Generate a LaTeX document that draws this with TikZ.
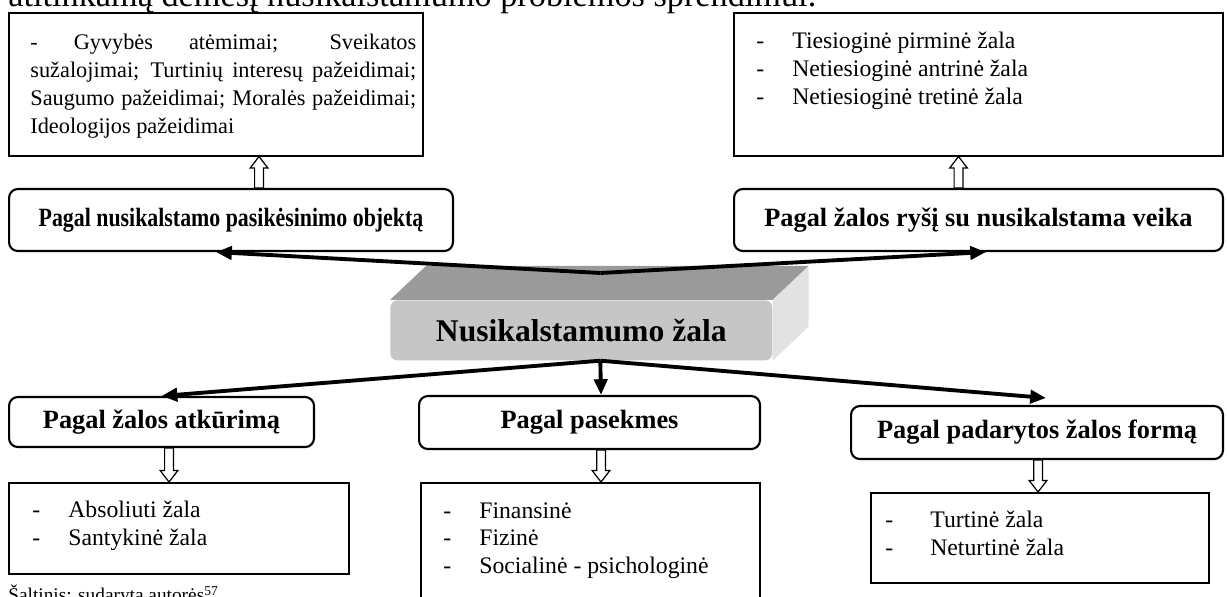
\documentclass[tikz,border=0pt]{standalone}
\usepackage{fontspec}
\setmainfont{Liberation Serif}
\newfontfamily\narrowserif{Liberation Serif}[FakeStretch=0.83]
\usetikzlibrary{calc}
\usetikzlibrary{arrows.meta}

\definecolor{topgray}{HTML}{9A9A9A}
\definecolor{frontgray}{HTML}{C6C6C6}
\definecolor{sidegray}{HTML}{E2E2E2}

\tikzset{
  listbox/.style={draw, line width=0.9pt, anchor=north west, inner sep=0pt},
  listtext/.style={anchor=north west, inner sep=0pt, align=left, font=\fontsize{13.5}{15.9}\selectfont},
  lbl/.style={draw, line width=1.2pt, rounded corners=5pt, anchor=north west, inner sep=0pt, font=\fontsize{15}{18}\selectfont\bfseries},
  conn/.style={line width=2.2pt, -{Triangle[length=9pt,width=7.5pt]}},
  hollow/.style={draw, line width=0.7pt, fill=white},
}

\newcommand{\dashitem}[2][0.72cm]{\makebox[#1][l]{-}#2}
% open block arrow from #1 towards the anchor #2 (tip kept in line with #1)
\newcommand{\hollowarrow}[2]{%
  \coordinate (ha) at (#1);
  \coordinate (hb) at (#2 -| ha);
  \coordinate (hh) at ($(hb)!6.5pt!(ha)$);
  \draw[hollow] ($(ha)!2.5pt!90:(hb)$) -- ($(hh)!2.5pt!90:(hb)$) -- ($(hh)!5pt!90:(hb)$) -- (hb)
    -- ($(hh)!5pt!-90:(hb)$) -- ($(hh)!2.5pt!-90:(hb)$) -- ($(ha)!2.5pt!-90:(hb)$) -- cycle;
}

\begin{document}
\begin{tikzpicture}[x=0.02cm, y=-0.02cm]
\clip (0,0) rectangle (1227,597);

\node[anchor=base west, inner sep=0pt, font=\fontsize{19.5}{22}\selectfont] (intro) at (8,7) {atitinkamą dėmesį nusikalstamumo problemos sprendimui.};

% top row
\node[listbox, minimum width=8.28cm, minimum height=2.86cm] (listA) at (8,12) {};
\node[listtext, text width=7.72cm, align=justify, font=\fontsize{12.7}{15.9}\selectfont] (listAtxt) at ($(listA.north west)+(22,22)$)
  {- Gyvybės atėmimai; Sveikatos\linebreak sužalojimai; Turtinių interesų pažeidimai;\linebreak Saugumo pažeidimai; Moralės pažeidimai;\linebreak Ideologijos pažeidimai};
\node[listbox, minimum width=9.78cm, minimum height=2.86cm] (listB) at (733,12) {};
\node[listtext] (listBtxt) at ($(listB.north west)+(23,20)$)
  {\dashitem{Tiesioginė pirminė žala}\\ \dashitem{Netiesioginė antrinė žala}\\ \dashitem{Netiesioginė tretinė žala}};

\node[lbl, minimum width=8.88cm, minimum height=1.24cm, font=\fontsize{15}{18}\selectfont\narrowserif\bfseries] (objlbl) at (8,188) {Pagal nusikalstamo pasikėsinimo objektą};
\node[lbl, minimum width=9.78cm, minimum height=1.24cm] (linklbl) at (733,188) {Pagal žalos ryšį su nusikalstama veika};

% central block
\node[fill=frontgray, rounded corners=4pt, minimum width=7.64cm, minimum height=1.2cm, anchor=north west, inner sep=0pt, font=\fontsize{18}{21}\selectfont\bfseries] (core) at (390,300) {Nusikalstamumo žala};
\fill[topgray] (core.north west) -- ++(36,-34) -- ($(core.north east)+(36,-34)$) -- (core.north east) -- cycle;
\fill[sidegray] (core.north east) -- ++(36,-34) -- ($(core.south east)+(36,-34)$) -- (core.south east) -- cycle;

\coordinate (topjoin) at ($(core.north)+(19,-27)$);
\coordinate (botjoin) at ($(core.south)+(19,0)$);
\draw[conn] (topjoin) -- ([xshift=-0.3cm]objlbl.south);
\draw[conn] (topjoin) -- ([xshift=0.15cm]linklbl.south);

% bottom row
\node[lbl, minimum width=6.1cm, minimum height=1.0cm] (restlbl) at (8,396) {Pagal žalos atkūrimą};
\node[lbl, minimum width=6.82cm, minimum height=1.06cm] (conslbl) at (418,395) {Pagal pasekmes};
\node[lbl, minimum width=7.44cm, minimum height=1.06cm] (formlbl) at (850,405) {Pagal padarytos žalos formą};
\draw[conn] (botjoin) -- (restlbl.north);
\draw[conn] (botjoin) -- ([xshift=0.23cm]conslbl.north);
\draw[conn] (botjoin) -- ([xshift=0.18cm, yshift=0.14cm]formlbl.north);

\node[listbox, minimum width=6.8cm, minimum height=1.82cm] (restlist) at (8,482) {};
\node[listtext] (restlisttxt) at ($(restlist.north west)+(24,19)$)
  {\dashitem{Absoliuti žala}\\ \dashitem{Santykinė žala}};
\node[listbox, minimum width=6.78cm, minimum height=2.9cm] (conslist) at (420,482) {};
\node[listtext] (conslisttxt) at ($(conslist.north west)+(23,20)$)
  {\dashitem{Finansinė}\\ \dashitem{Fizinė}\\ \dashitem{Socialinė - psichologinė}};
\node[listbox, minimum width=6.76cm, minimum height=1.8cm] (formlist) at (870,492) {};
\node[listtext] (formlisttxt) at ($(formlist.north west)+(15,19)$)
  {\dashitem[0.9cm]{Turtinė žala}\\ \dashitem[0.9cm]{Neturtinė žala}};

\hollowarrow{$(objlbl.north)+(28,0)$}{listA.south}
\hollowarrow{$(linklbl.north)+(-20,0)$}{listB.south}
\hollowarrow{$(restlbl.south)+(7.5,0)$}{restlist.north}
\hollowarrow{$(conslbl.south)+(11.5,0)$}{conslist.north}
\hollowarrow{$(formlbl.south)+(1,0)$}{formlist.north}

\node[anchor=base west, inner sep=0pt, font=\fontsize{11}{13}\selectfont] (source) at (8,602) {Šaltinis: sudaryta autorės\textsuperscript{57}};
\end{tikzpicture}
\end{document}
